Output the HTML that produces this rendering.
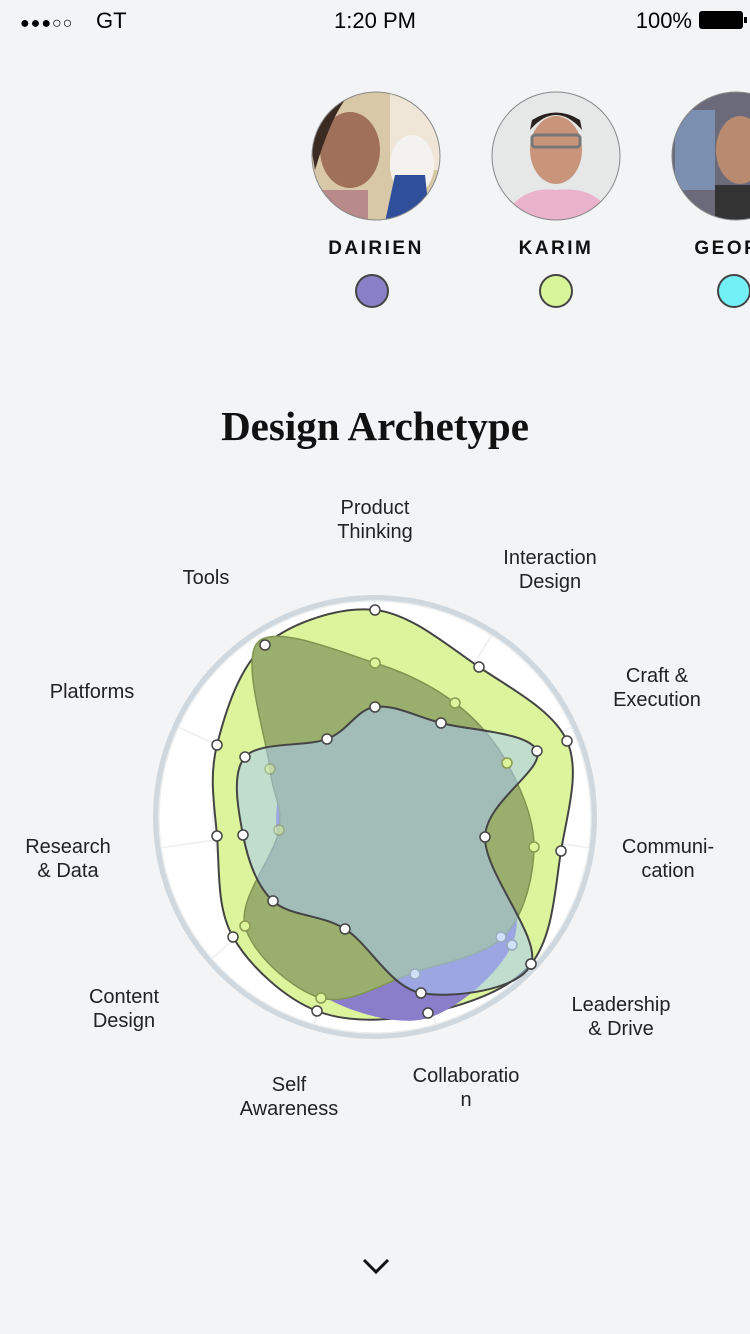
<!DOCTYPE html>
<html><head><meta charset="utf-8"><style>
html,body{margin:0;padding:0;background:#f3f4f6;width:750px;height:1334px;overflow:hidden;font-family:"Liberation Sans",sans-serif}
svg{position:absolute;left:0;top:0}
</style></head><body>
<svg id="s" width="750" height="1334" viewBox="0 0 750 1334" xmlns="http://www.w3.org/2000/svg">
<rect width="750" height="1334" fill="#f3f4f6"/>
<g font-family="Liberation Sans, sans-serif" font-size="22" fill="#000">
<text x="20" y="28" font-size="16" letter-spacing="1">●●●○○</text>
<text x="96" y="28">GT</text>
<text x="375" y="28" text-anchor="middle">1:20 PM</text>
<text x="692" y="28" text-anchor="end">100%</text>
</g>
<rect x="699" y="11" width="44" height="18" rx="3" fill="#000"/>
<rect x="744" y="17" width="3" height="6" fill="#000"/>
<defs>
<clipPath id="c1"><circle cx="376" cy="156" r="64"/></clipPath>
<clipPath id="c2"><circle cx="556" cy="156" r="64"/></clipPath>
<clipPath id="c3"><circle cx="736" cy="156" r="64"/></clipPath>
</defs>
<g clip-path="url(#c1)"><rect x="310" y="90" width="132" height="132" fill="#d8c8a8"/><rect x="390" y="90" width="60" height="80" fill="#efe6d8"/><ellipse cx="350" cy="150" rx="30" ry="38" fill="#a0705a"/><path d="M315 170 Q330 120 345 100 L330 95 L310 140Z" fill="#3a2a22"/><ellipse cx="412" cy="165" rx="22" ry="30" fill="#f4f2ee"/><path d="M395 175 L425 175 L430 222 L385 222Z" fill="#2f4f9a"/><rect x="318" y="190" width="50" height="40" fill="#b88a8a"/></g>
<circle cx="376" cy="156" r="64" fill="none" stroke="#888" stroke-width="1"/>
<g clip-path="url(#c2)"><rect x="490" y="90" width="132" height="132" fill="#e6e8e8"/><path d="M500 222 Q520 185 556 190 Q600 185 615 222Z" fill="#e9b3cc"/><ellipse cx="556" cy="150" rx="26" ry="34" fill="#c9957a"/><path d="M530 130 Q556 100 582 130 L580 120 Q556 105 532 120Z" fill="#2a2220"/><rect x="532" y="135" width="48" height="12" rx="3" fill="none" stroke="#777" stroke-width="3"/></g>
<circle cx="556" cy="156" r="64" fill="none" stroke="#888" stroke-width="1"/>
<g clip-path="url(#c3)"><rect x="670" y="90" width="132" height="132" fill="#6b6a7a"/><rect x="675" y="110" width="40" height="80" fill="#7b8fb0"/><ellipse cx="740" cy="150" rx="24" ry="34" fill="#b88a70"/><rect x="715" y="185" width="50" height="40" fill="#333"/></g>
<circle cx="736" cy="156" r="64" fill="none" stroke="#888" stroke-width="1"/>
<g font-family="Liberation Sans, sans-serif" font-size="19" font-weight="bold" letter-spacing="2.5" text-anchor="middle" fill="#111">
<text x="376" y="254">DAIRIEN</text><text x="556" y="254">KARIM</text><text x="736" y="254">GEORG</text>
</g>
<circle cx="372" cy="291" r="16" fill="#8a80c8" stroke="#444" stroke-width="2"/>
<circle cx="556" cy="291" r="16" fill="#d8f59a" stroke="#444" stroke-width="2"/>
<circle cx="734" cy="291" r="16" fill="#72f0f6" stroke="#444" stroke-width="2"/>
<text x="375" y="440" text-anchor="middle" font-family="Liberation Serif, serif" font-weight="bold" font-size="41" fill="#111">Design Archetype</text>
<g font-family="Liberation Sans, sans-serif" font-size="20" fill="#222" text-anchor="middle">
<text x="375" y="514">Product</text><text x="375" y="538">Thinking</text>
<text x="550" y="564">Interaction</text><text x="550" y="588">Design</text>
<text x="657" y="682">Craft &amp;</text><text x="657" y="706">Execution</text>
<text x="668" y="853">Communi-</text><text x="668" y="877">cation</text>
<text x="621" y="1011">Leadership</text><text x="621" y="1035">&amp; Drive</text>
<text x="466" y="1082">Collaboratio</text><text x="466" y="1106">n</text>
<text x="289" y="1091">Self</text><text x="289" y="1115">Awareness</text>
<text x="124" y="1003">Content</text><text x="124" y="1027">Design</text>
<text x="68" y="853">Research</text><text x="68" y="877">&amp; Data</text>
<text x="92" y="698">Platforms</text>
<text x="206" y="584">Tools</text>
</g>
<circle cx="375" cy="817" r="219" fill="#fff" stroke="#cfd8df" stroke-width="6"/>
<g id="grid" fill="none" stroke="#eceeef" stroke-width="1.5"></g>
<g id="shapes"></g>
<path d="M364 1260 L376 1272 L388 1260" fill="none" stroke="#111" stroke-width="3"/>
</svg>
<script>
var cx=375,cy=817,g=document.getElementById('grid'),sh=document.getElementById('shapes'),NS='http://www.w3.org/2000/svg';
function el(t,a,p){var e=document.createElementNS(NS,t);for(var k in a)e.setAttribute(k,a[k]);p.appendChild(e);return e;}
for(var r=54;r<=216;r+=54)el('circle',{cx:cx,cy:cy,r:r},g);
for(var i=0;i<11;i++){var a=-Math.PI/2+i*2*Math.PI/11;el('line',{x1:cx,y1:cy,x2:cx+216*Math.cos(a),y2:cy+216*Math.sin(a)},g);}
function path(p){var n=p.length,d='M'+p[0][0]+' '+p[0][1];for(var i=0;i<n;i++){var p0=p[(i-1+n)%n],p1=p[i],p2=p[(i+1)%n],p3=p[(i+2)%n];
var c1=[p1[0]+(p2[0]-p0[0])/6,p1[1]+(p2[1]-p0[1])/6],c2=[p2[0]-(p3[0]-p1[0])/6,p2[1]-(p3[1]-p1[1])/6];
d+=' C'+c1[0].toFixed(1)+' '+c1[1].toFixed(1)+' '+c2[0].toFixed(1)+' '+c2[1].toFixed(1)+' '+p2[0]+' '+p2[1];}return d+'Z';}
var outer=[[375,610],[479,667],[567,741],[561,851],[531,964],[428,1013],[317,1011],[233,937],[217,836],[217,745],[265,645]];
var purple=[[375,720],[440,730],[490,770],[505,850],[512,945],[428,1018],[330,1000],[300,950],[280,870],[280,790],[320,740]];
var olive=[[375,663],[455,703],[507,763],[534,847],[505,935],[415,972],[321,998],[245,926],[279,830],[270,769],[258,642]];
var inner=[[375,707],[441,723],[537,751],[485,837],[531,964],[421,993],[345,929],[273,901],[243,835],[245,757],[327,739]];
el('path',{d:path(outer),fill:'#dcf59c',stroke:'#444','stroke-width':2},sh);
el('path',{d:path(purple),fill:'#8a7dc9'},sh);
el('path',{d:path(olive),fill:'#9aae6e',stroke:'#7f9550','stroke-width':1.5},sh);
el('path',{d:path(inner),fill:'rgba(170,200,245,0.55)',stroke:'#444','stroke-width':2},sh);
[[501,937],[512,945],[415,974]].forEach(function(p){el('circle',{cx:p[0],cy:p[1],r:5,fill:'#cfe0fb',stroke:'#9ab','stroke-width':1.5},sh);});
olive.forEach(function(p){if(p[0]==505||p[0]==415||p[0]==258)return;el('circle',{cx:p[0],cy:p[1],r:5,fill:'#dcf59c',stroke:'#8a9a50','stroke-width':1.5,opacity:(p[0]<290&&p[1]<850)?0.5:1},sh);});
outer.concat(inner).forEach(function(p){el('circle',{cx:p[0],cy:p[1],r:5,fill:'#fff',stroke:'#444','stroke-width':1.5},sh);});
</script>
</body></html>
